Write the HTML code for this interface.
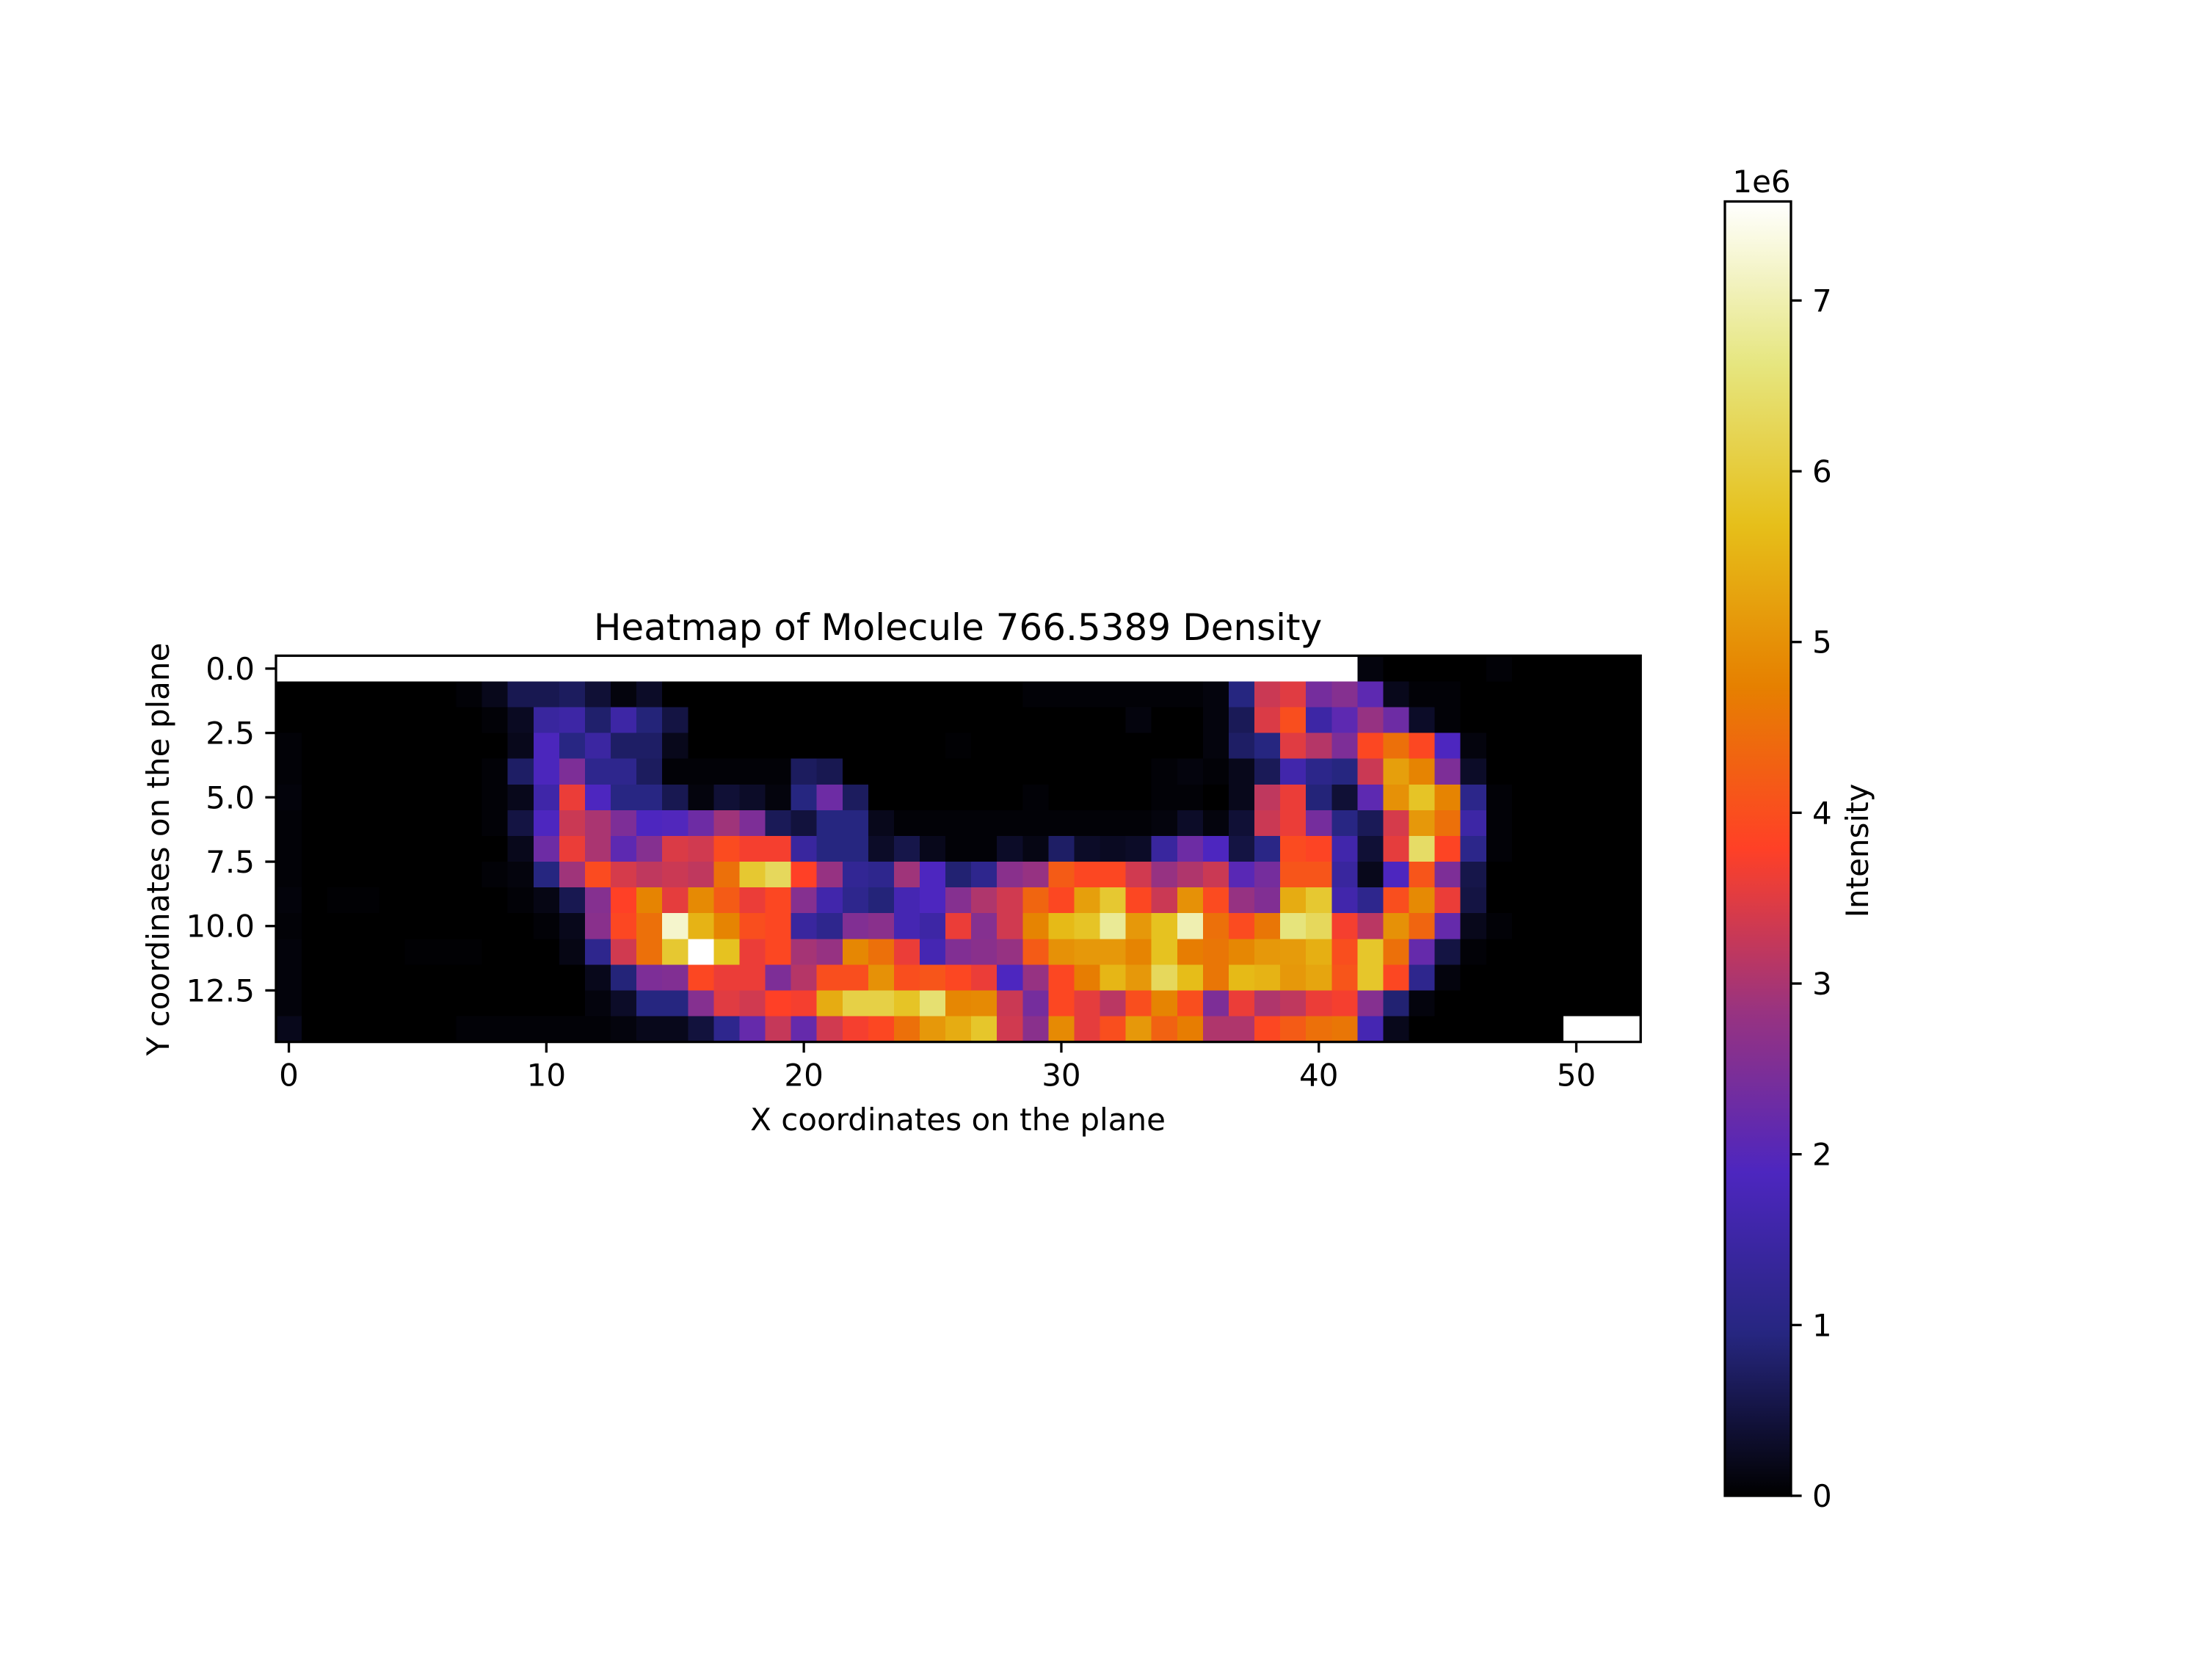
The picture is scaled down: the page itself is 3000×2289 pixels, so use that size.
<!DOCTYPE html>
<html>
<head>
<meta charset="utf-8">
<style>
  html,body{margin:0;padding:0;background:#fff;}
  svg{display:block;}
  text{font-family:"DejaVu Sans","Liberation Sans",sans-serif;fill:#000;}
</style>
</head>
<body>
<svg id="chart" width="3000" height="2289" viewBox="0 0 3000 2289" xmlns="http://www.w3.org/2000/svg">
  <rect x="0" y="0" width="3000" height="2289" fill="#fff"/>
  <defs>
    <linearGradient id="cbgrad" x1="0" y1="1" x2="0" y2="0"></linearGradient>
  </defs>
  <text x="1305" y="872" font-size="50" text-anchor="middle">Heatmap of Molecule 766.5389 Density</text>
  <g id="cells" shape-rendering="crispEdges"></g>
  <g id="axes"></g>
  <text x="1305" y="1540" font-size="42" text-anchor="middle">X coordinates on the plane</text>
  <text transform="translate(230,1157) rotate(-90)" font-size="42" text-anchor="middle">Y coordinates on the plane</text>
  <g id="colorbar"></g>
  <text x="2400" y="262" font-size="42" text-anchor="middle">1e6</text>
  <text transform="translate(2545,1159) rotate(-90)" font-size="42" text-anchor="middle">Intensity</text>
</svg>
<script>
const xTicks = [0, 10, 20, 30, 40, 50];
const yTicks = [0, 2.5, 5, 7.5, 10, 12.5];
const yTickLabels = ["0.0", "2.5", "5.0", "7.5", "10.0", "12.5"];
const cbTicks = [0, 1, 2, 3, 4, 5, 6, 7];
const vmax = 7.58;
const row0 = [7.6,7.6,7.6,7.6,7.6,7.6,7.6,7.6,7.6,7.6,7.6,7.6,7.6,7.6,7.6,7.6,7.6,7.6,7.6,7.6,7.6,7.6,7.6,7.6,7.6,7.6,7.6,7.6,7.6,7.6,7.6,7.6,7.6,7.6,7.6,7.6,7.6,7.6,7.6,7.6,7.6,7.6,0.1,0,0,0,0,0.05,0,0,0,0,0];
const row1 = [0,0,0,0,0,0,0,0.05,0.2,0.6,0.6,0.7,0.4,0.1,0.3,0,0,0,0,0,0,0,0,0,0,0,0,0,0,0.05,0.05,0.05,0.05,0.05,0.05,0.05,0.1,0.95,3.3,3.5,2.4,2.6,2.1,0.2,0.05,0.05,0,0,0,0,0,0,0];
const row2 = [0,0,0,0,0,0,0,0,0.05,0.25,1.4,1.5,0.8,1.5,0.9,0.5,0,0,0,0,0,0,0,0,0,0,0,0,0,0,0,0,0,0.1,0,0,0.1,0.65,3.45,4.0,1.5,2.1,2.8,2.3,0.3,0.05,0,0,0,0,0,0,0];
const row3 = [0.05,0,0,0,0,0,0,0,0,0.2,1.85,1.0,1.45,0.75,0.75,0.2,0,0,0,0,0,0,0,0,0,0,0.03,0,0,0,0,0,0,0,0,0,0.1,0.75,0.95,3.5,3.1,2.5,3.9,4.5,3.9,1.9,0.1,0,0,0,0,0,0];
const row4 = [0.05,0,0,0,0,0,0,0,0.05,0.75,1.85,2.5,1.15,1.15,0.7,0.05,0.05,0.05,0.05,0.05,0.7,0.6,0,0,0,0,0,0,0,0,0,0,0,0,0.05,0.1,0.05,0.2,0.65,1.6,1.1,0.95,3.3,5.2,4.8,2.5,0.3,0,0,0,0,0,0];
const row5 = [0.08,0,0,0,0,0,0,0,0.05,0.2,1.55,3.6,1.9,1.0,1.0,0.6,0.1,0.4,0.3,0.1,0.95,2.3,0.7,0,0,0,0,0,0,0.05,0,0,0,0,0.05,0.05,0,0.2,3.2,3.6,0.9,0.4,2.1,5.0,5.8,4.8,1.1,0.05,0,0,0,0,0];
const row6 = [0.05,0,0,0,0,0,0,0,0.05,0.5,1.9,3.3,3.0,2.5,1.9,1.95,2.3,2.9,2.5,0.65,0.45,0.95,0.95,0.2,0.05,0.05,0.05,0.05,0.05,0.05,0.05,0.05,0.05,0.05,0.1,0.3,0.1,0.4,3.3,3.6,2.4,1.0,0.65,3.4,5.1,4.5,1.5,0.05,0,0,0,0,0];
const row7 = [0.05,0,0,0,0,0,0,0,0,0.2,2.3,3.6,3.0,2.1,2.6,3.45,3.35,3.95,3.7,3.7,1.4,0.95,0.95,0.3,0.55,0.2,0.05,0.05,0.3,0.15,0.75,0.3,0.25,0.3,1.4,2.3,1.9,0.5,1.05,3.95,3.85,1.6,0.4,3.55,6.4,3.85,1.1,0.05,0,0,0,0,0];
const row8 = [0.05,0,0,0,0,0,0,0,0.05,0.1,0.95,2.9,3.95,3.4,3.2,3.3,3.2,4.5,5.9,6.3,3.8,2.8,1.25,1.15,2.9,1.9,0.85,1.15,2.65,2.8,4.2,3.9,3.9,3.35,2.8,3.05,3.3,2.05,2.4,4.1,4.1,1.4,0.2,1.9,4.1,2.5,0.55,0,0,0,0,0,0];
const row9 = [0.08,0,0.03,0.03,0,0,0,0,0,0.05,0.15,0.6,2.6,3.8,4.8,3.55,4.9,4.2,3.6,3.9,2.6,1.6,1.15,0.9,1.7,1.9,2.6,3.05,3.35,4.35,3.9,5.2,5.9,3.9,3.3,5.0,3.95,2.8,2.55,5.4,5.9,1.6,1.15,4.0,4.9,3.6,0.5,0,0,0,0,0,0];
const row10 = [0.05,0,0,0,0,0,0,0,0,0,0.05,0.2,2.65,3.9,4.5,7.2,5.5,4.8,4.0,3.9,1.4,1.15,2.55,2.65,1.7,1.5,3.6,2.6,3.35,4.8,5.6,5.8,6.8,5.1,5.75,7.0,4.5,3.95,4.6,6.6,6.3,3.7,3.15,5.0,4.35,2.2,0.2,0.05,0,0,0,0,0];
const row11 = [0.08,0,0,0,0,0.03,0.03,0.03,0,0,0,0.15,1.15,3.35,4.5,5.9,7.6,5.75,3.6,3.9,2.95,2.8,4.85,4.5,3.6,1.7,2.55,2.65,2.8,4.2,5.0,5.1,5.1,4.8,5.75,4.7,4.6,4.85,5.1,5.15,5.45,4.0,5.85,4.5,2.2,0.5,0.05,0,0,0,0,0,0];
const row12 = [0.08,0,0,0,0,0,0,0,0,0,0,0,0.2,0.9,2.5,2.55,3.9,3.6,3.6,2.5,3.1,4.0,4.0,5.0,4.0,4.1,3.9,3.6,1.9,2.8,3.9,4.7,5.55,5.1,6.3,5.65,4.6,5.6,5.5,5.1,5.3,4.1,5.85,3.9,1.15,0.1,0,0,0,0,0,0,0];
const row13 = [0.08,0,0,0,0,0,0,0,0,0,0,0,0.1,0.3,0.95,0.95,2.6,3.5,3.35,3.8,3.7,5.4,6.1,6.1,5.8,6.5,4.85,4.9,3.3,2.4,3.9,3.55,3.15,4.0,4.8,4.0,2.5,3.6,3.05,3.2,3.6,3.7,2.6,0.85,0.1,0,0,0,0,0,0,0,0];
const row14 = [0.2,0,0,0,0,0,0,0.05,0.05,0.05,0.05,0.05,0.05,0.1,0.2,0.2,0.45,1.15,2.2,3.25,2.2,3.35,3.7,3.9,4.5,5.1,5.4,5.85,3.35,2.65,4.9,3.55,4.0,5.1,4.3,4.7,3.05,3.05,3.9,4.2,4.5,4.6,1.7,0.2,0,0,0,0,0,0,7.6,7.6,7.6];
const grid = [row0,row1,row2,row3,row4,row5,row6,row7,row8,row9,row10,row11,row12,row13,row14];

// CMRmap
const CR=[0,0.15,0.30,0.60,1.00,0.90,0.90,0.90,1.00];
const CG=[0,0.15,0.15,0.20,0.25,0.50,0.75,0.90,1.00];
const CB=[0,0.50,0.75,0.50,0.15,0.00,0.10,0.50,1.00];
function cmap(f){
  f=Math.max(0,Math.min(1,f));
  const p=f*8, i=Math.min(7,Math.floor(p)), t=p-i;
  const c=a=>Math.round(255*(a[i]+(a[i+1]-a[i])*t));
  return 'rgb('+c(CR)+','+c(CG)+','+c(CB)+')';
}
const NS='http://www.w3.org/2000/svg';
const X0=376, Y0=893.4, CELL=35.08, NC=53, NR=15;
const xPx=v=>X0+(v+0.5)*CELL;
const yPx=v=>Y0+(v+0.5)*CELL;
function mk(tag,attrs,parent){const e=document.createElementNS(NS,tag);for(const k in attrs)e.setAttribute(k,attrs[k]);parent.appendChild(e);return e;}

const cells=document.getElementById('cells');
grid.forEach((row,r)=>{
  row.forEach((v,c)=>{
    const e=mk('rect',{x:(xPx(c)-CELL/2).toFixed(2),y:(yPx(r)-CELL/2).toFixed(2),width:(CELL+0.6).toFixed(2),height:(CELL+0.6).toFixed(2),fill:cmap(v/vmax)},cells);
    
    
  });
});

const axes=document.getElementById('axes');
const W=NC*CELL, H=NR*CELL;
const frame=mk('rect',{x:X0,y:Y0,width:W,height:H,fill:'none',stroke:'#000','stroke-width':3.3},axes);


xTicks.forEach(t=>{
  const x=xPx(t);
  const l=mk('line',{x1:x,x2:x,y1:Y0+H,y2:Y0+H+14.6,stroke:'#000','stroke-width':3.3},axes);
  
  
  const tx=mk('text',{x:x,y:Y0+H+60,'font-size':42,'text-anchor':'middle'},axes);
  tx.textContent=String(t);
  
  
});
yTicks.forEach((t,i)=>{
  const y=yPx(t);
  const l=mk('line',{x1:X0-14.6,x2:X0,y1:y,y2:y,stroke:'#000','stroke-width':3.3},axes);
  
  
  const tx=mk('text',{x:X0-29,y:y+15,'font-size':42,'text-anchor':'end'},axes);
  tx.textContent=yTickLabels[i];
  
  
});

// colorbar
const grad=document.getElementById('cbgrad');
for(let i=0;i<=32;i++){const f=i/32;mk('stop',{offset:f,'stop-color':cmap(f)},grad);}
const cb=document.getElementById('colorbar');
const CBX=2350, CBW=90, CBT=274.5, CBB=2038;
const cbY=v=>CBB-(v/vmax)*(CBB-CBT);
const cbr=mk('rect',{x:CBX,y:CBT,width:CBW,height:CBB-CBT,fill:'url(#cbgrad)',stroke:'#000','stroke-width':3.3},cb);


cbTicks.forEach(t=>{
  const y=cbY(t);
  const l=mk('line',{x1:CBX+CBW,x2:CBX+CBW+14.6,y1:y,y2:y,stroke:'#000','stroke-width':3.3},cb);
  
  
  const tx=mk('text',{x:CBX+CBW+29,y:y+15,'font-size':42},cb);
  tx.textContent=String(t);
  
  
});
</script>
</body>
</html>
